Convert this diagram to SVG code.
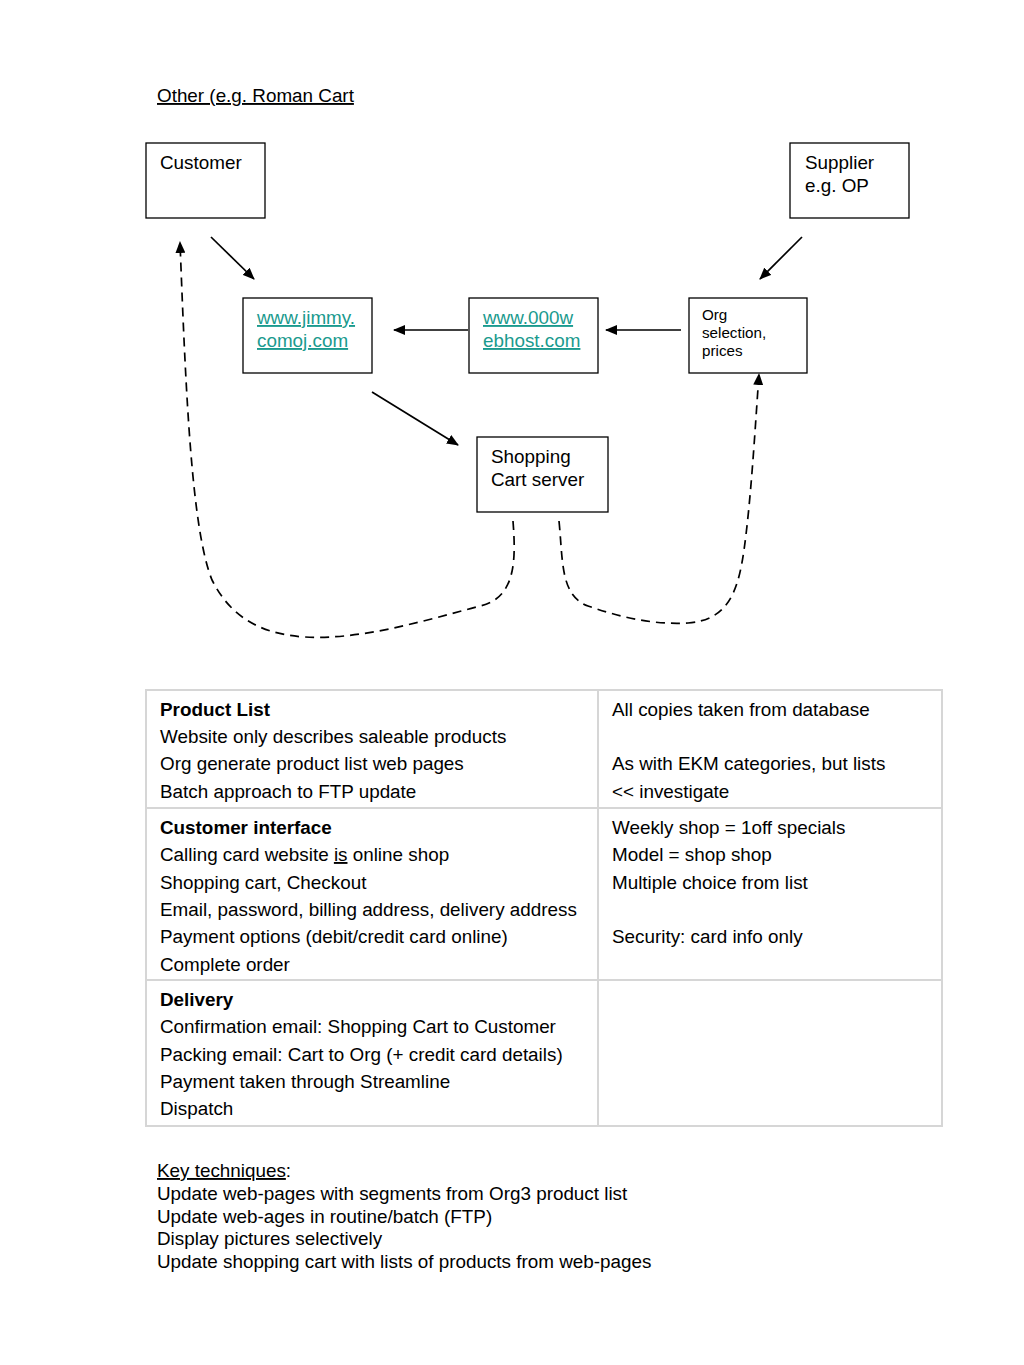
<svg xmlns="http://www.w3.org/2000/svg" width="1024" height="1365" viewBox="0 0 1024 1365">
<style>
text{font-family:"Liberation Sans",Arial,sans-serif;font-size:18.85px;fill:#000}
.box{fill:#fff;stroke:#000;stroke-width:1.3}
.link{fill:#1a9a8e;text-decoration:underline}
.small{font-size:15.2px}
.conn{stroke:#000;stroke-width:1.7;fill:none}
.dash{stroke-dasharray:9,6}
.grid{stroke:#d6d6d6;stroke-width:2;fill:none}
.b{font-weight:bold}
</style>
<defs>
<marker id="ah" viewBox="0 0 12 10" refX="11" refY="5" markerWidth="12" markerHeight="10" markerUnits="userSpaceOnUse" orient="auto">
<path d="M0,0 L12,5 L0,10 z" fill="#000"/>
</marker>
</defs>
<rect width="1024" height="1365" fill="#fff"/>
<text x="157" y="102" text-decoration="underline">Other (e.g. Roman Cart</text>

<g id="customer"><rect class="box" x="146" y="143" width="119" height="75"/><text x="160" y="169">Customer</text></g>
<g id="supplier"><rect class="box" x="790" y="143" width="119" height="75"/><text x="805" y="169">Supplier</text><text x="805" y="192">e.g. OP</text></g>
<g id="jimmy"><rect class="box" x="243" y="298" width="129" height="75"/><text class="link" x="257" y="324">www.jimmy.</text><text class="link" x="257" y="347">comoj.com</text></g>
<g id="webhost"><rect class="box" x="469" y="298" width="129" height="75"/><text class="link" x="483" y="324">www.000w</text><text class="link" x="483" y="347">ebhost.com</text></g>
<g id="org"><rect class="box" x="689" y="298" width="118" height="75"/><text class="small" x="702" y="320">Org</text><text class="small" x="702" y="338">selection,</text><text class="small" x="702" y="356">prices</text></g>
<g id="cart"><rect class="box" x="477" y="437" width="131" height="75"/><text x="491" y="463">Shopping</text><text x="491" y="486">Cart server</text></g>

<g id="connectors">
<line class="conn" x1="211" y1="237" x2="254" y2="279" marker-end="url(#ah)"/>
<line class="conn" x1="802" y1="237" x2="760" y2="279" marker-end="url(#ah)"/>
<line class="conn" x1="468" y1="330" x2="394" y2="330" marker-end="url(#ah)"/>
<line class="conn" x1="681" y1="330" x2="606" y2="330" marker-end="url(#ah)"/>
<line class="conn" x1="372" y1="392" x2="458" y2="445" marker-end="url(#ah)"/>
<path class="conn dash" d="M513,521 C516,560 516,598 480,606 C420,622 360,640 305,637 C255,634 228,612 212,580 C192,530 186,400 180,242" marker-end="url(#ah)"/>
<path class="conn dash" d="M559,521 C563,560 560,596 588,606 C620,617 652,625 688,623 C728,620 738,592 744,550 C751,500 755,430 759,374" marker-end="url(#ah)"/>
</g>

<g id="table">
<rect class="grid" x="146" y="690" width="796" height="436"/>
<line class="grid" x1="598" y1="690" x2="598" y2="1126"/>
<line class="grid" x1="146" y1="808" x2="942" y2="808"/>
<line class="grid" x1="146" y1="980" x2="942" y2="980"/>
<text class="b" x="160" y="716">Product List</text>
<text x="160" y="743">Website only describes saleable products</text>
<text x="160" y="770">Org generate product list web pages</text>
<text x="160" y="798">Batch approach to FTP update</text>
<text x="612" y="716">All copies taken from database</text>
<text x="612" y="770">As with EKM categories, but lists</text>
<text x="612" y="798">&lt;&lt; investigate</text>
<text class="b" x="160" y="834">Customer interface</text>
<text x="160" y="861">Calling card website <tspan text-decoration="underline">is</tspan> online shop</text>
<text x="160" y="889">Shopping cart, Checkout</text>
<text x="160" y="916">Email, password, billing address, delivery address</text>
<text x="160" y="943">Payment options (debit/credit card online)</text>
<text x="160" y="971">Complete order</text>
<text x="612" y="834">Weekly shop = 1off specials</text>
<text x="612" y="861">Model = shop shop</text>
<text x="612" y="889">Multiple choice from list</text>
<text x="612" y="943">Security: card info only</text>
<text class="b" x="160" y="1006">Delivery</text>
<text x="160" y="1033">Confirmation email: Shopping Cart to Customer</text>
<text x="160" y="1061">Packing email: Cart to Org (+ credit card details)</text>
<text x="160" y="1088">Payment taken through Streamline</text>
<text x="160" y="1115">Dispatch</text>
</g>

<g id="notes">
<text x="157" y="1177"><tspan text-decoration="underline">Key techniques</tspan>:</text>
<text x="157" y="1200">Update web-pages with segments from Org3 product list</text>
<text x="157" y="1223">Update web-ages in routine/batch (FTP)</text>
<text x="157" y="1245">Display pictures selectively</text>
<text x="157" y="1268">Update shopping cart with lists of products from web-pages</text>
</g>
</svg>
